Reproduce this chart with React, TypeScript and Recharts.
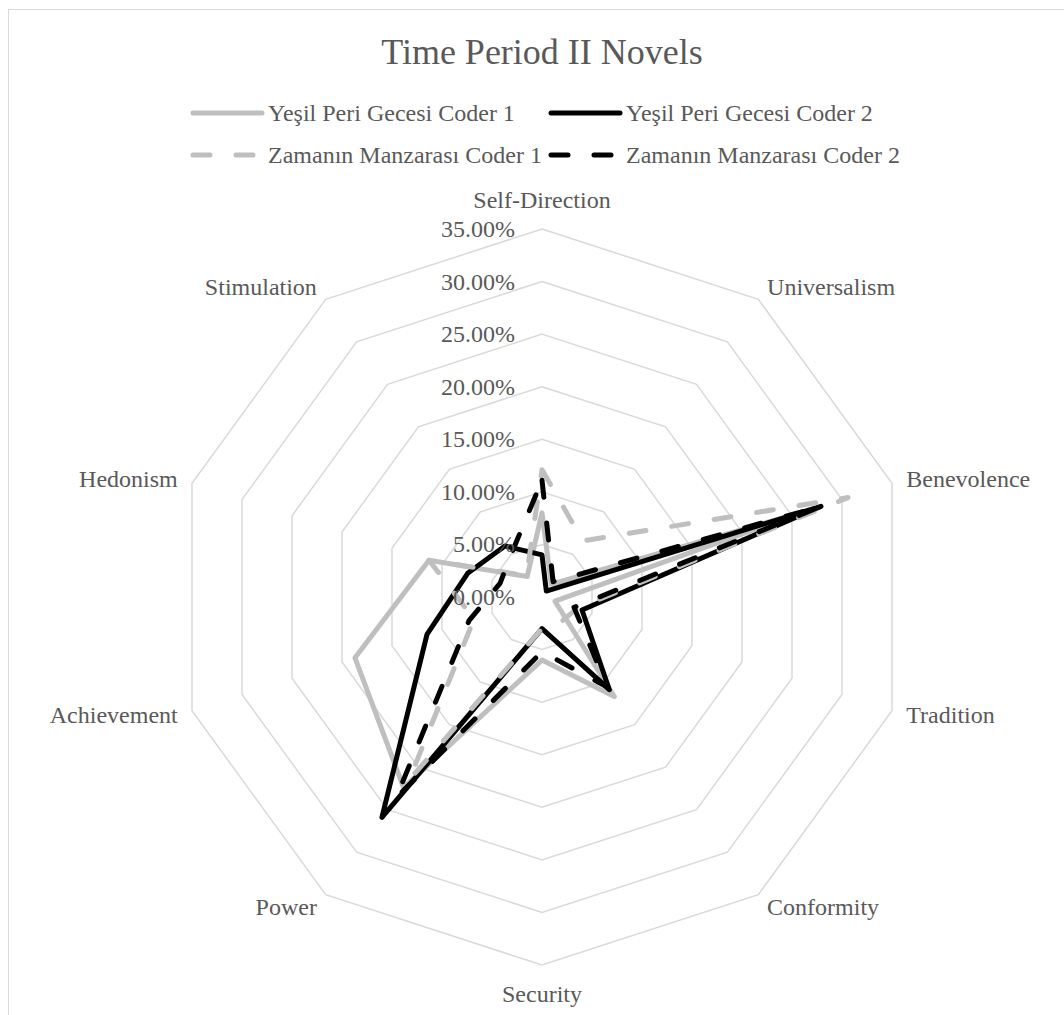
import React from 'react'
import { RadarChart, Radar, PolarGrid, PolarAngleAxis, PolarRadiusAxis } from 'recharts'

// value categories, clockwise from the top
const categories = [
  'Self-Direction',
  'Universalism',
  'Benevolence',
  'Tradition',
  'Conformity',
  'Security',
  'Power',
  'Achievement',
  'Hedonism',
  'Stimulation',
]

// shares in percent
const yesilCoder1 = [8.0, 1.5, 26.0, 1.3, 11.7, 6.0, 22.4, 18.7, 11.3, 2.4]
const yesilCoder2 = [4.0, 0.7, 27.9, 4.0, 10.9, 3.0, 25.9, 11.5, 7.4, 6.0]
const zamaninCoder1 = [12.1, 6.6, 30.6, 3.5, 3.0, 3.0, 21.5, 6.8, 11.3, 2.5]
const zamaninCoder2 = [11.1, 1.8, 27.9, 3.2, 10.6, 5.2, 23.6, 7.3, 4.2, 5.0]

const radiusTicks = [0, 5, 10, 15, 20, 25, 30, 35]

const data = categories.map((name, i) => ({
  name,
  y1: yesilCoder1[i],
  y2: yesilCoder2[i],
  z1: zamaninCoder1[i],
  z2: zamaninCoder2[i],
}))

const W = 1064
const H = 1015
const CX = 542
const CY = 597
const R = 368
const FONT = '"Liberation Serif", "Times New Roman", serif'
const TEXT = '#595959'
const GRAY = '#bfbfbf'
const DASH = '17 26'
const LINE_W = 5

const AngleTick = (props: any) => {
  const { x, y, payload } = props
  const dx = x - CX
  const dy = y - CY
  let anchor = 'middle'
  if (dx > 1) anchor = 'start'
  else if (dx < -1) anchor = 'end'
  let ty = y
  if (Math.abs(dx) <= 1) ty = dy < 0 ? y - 14 : y + 14
  return (
    <text x={x} y={ty} textAnchor={anchor} dominantBaseline="central" fontSize={24} fontFamily={FONT} fill={TEXT}>
      {payload.value}
    </text>
  )
}

const RadiusTick = (props: any) => {
  const { x, y, payload } = props
  return (
    <text x={x - 27} y={y} textAnchor="end" dominantBaseline="central" fontSize={24} fontFamily={FONT} fill={TEXT}>
      {Number(payload.value).toFixed(2) + '%'}
    </text>
  )
}

const LegendItem = ({ color, dashed, label, left, top }: any) => (
  <div style={{ position: 'absolute', left, top, height: 30, display: 'flex', alignItems: 'center', whiteSpace: 'nowrap' }}>
    <svg width={76} height={10} style={{ display: 'block' }}>
      <line
        x1={3}
        y1={5}
        x2={72}
        y2={5}
        stroke={color}
        strokeWidth={LINE_W}
        strokeLinecap="round"
        strokeDasharray={dashed ? DASH : undefined}
      />
    </svg>
    <span style={{ fontSize: 24, lineHeight: '30px', color: TEXT, fontFamily: FONT, marginLeft: 2 }}>{label}</span>
  </div>
)

export default function App() {
  return (
    <div style={{ position: 'absolute', left: 0, top: 0, width: W, height: H, overflow: 'hidden', background: '#fff' }}>
      <div
        style={{
          position: 'absolute',
          left: 8,
          top: 9,
          width: W + 20,
          height: H + 20,
          border: '1.5px solid #d9d9d9',
        }}
      />
      <div
        style={{
          position: 'absolute',
          left: CX - 300,
          top: 34,
          width: 600,
          textAlign: 'center',
          fontSize: 36,
          lineHeight: '36px',
          color: TEXT,
          fontFamily: FONT,
        }}
      >
        Time Period II Novels
      </div>

      <LegendItem color={GRAY} label="Yeşil Peri Gecesi Coder 1" left={190} top={98} />
      <LegendItem color="#000" label="Yeşil Peri Gecesi Coder 2" left={548} top={98} />
      <LegendItem color={GRAY} dashed label="Zamanın Manzarası Coder 1" left={190} top={140} />
      <LegendItem color="#000" dashed label="Zamanın Manzarası Coder 2" left={548} top={140} />

      <div style={{ position: 'absolute', left: 0, top: 0 }}>
        <RadarChart
          width={W}
          height={H}
          data={data}
          cx={CX}
          cy={CY}
          outerRadius={R}
          margin={{ top: 0, right: 0, bottom: 0, left: 0 }}
        >
          <PolarGrid gridType="polygon" radialLines={false} stroke="#d9d9d9" strokeWidth={1.5} />
          <PolarAngleAxis
            dataKey="name"
            tick={<AngleTick />}
            tickLine={false}
            axisLine={false}
            tickSize={15}
          />
          <PolarRadiusAxis
            angle={90}
            type="number"
            domain={[0, 35]}
            ticks={radiusTicks}
            tick={<RadiusTick />}
            tickLine={false}
            axisLine={false}
          />
          <Radar
            dataKey="y1"
            name="Yeşil Peri Gecesi Coder 1"
            stroke={GRAY}
            strokeWidth={LINE_W}
            strokeLinejoin="round"
            fill="none"
            fillOpacity={0}
            dot={false}
            isAnimationActive={false}
          />
          <Radar
            dataKey="y2"
            name="Yeşil Peri Gecesi Coder 2"
            stroke="#000"
            strokeWidth={LINE_W}
            strokeLinejoin="round"
            fill="none"
            fillOpacity={0}
            dot={false}
            isAnimationActive={false}
          />
          <Radar
            dataKey="z1"
            name="Zamanın Manzarası Coder 1"
            stroke={GRAY}
            strokeWidth={LINE_W}
            strokeDasharray={DASH}
            strokeLinecap="round"
            strokeLinejoin="round"
            fill="none"
            fillOpacity={0}
            dot={false}
            isAnimationActive={false}
          />
          <Radar
            dataKey="z2"
            name="Zamanın Manzarası Coder 2"
            stroke="#000"
            strokeWidth={LINE_W}
            strokeDasharray={DASH}
            strokeLinecap="round"
            strokeLinejoin="round"
            fill="none"
            fillOpacity={0}
            dot={false}
            isAnimationActive={false}
          />
        </RadarChart>
      </div>
    </div>
  )
}
